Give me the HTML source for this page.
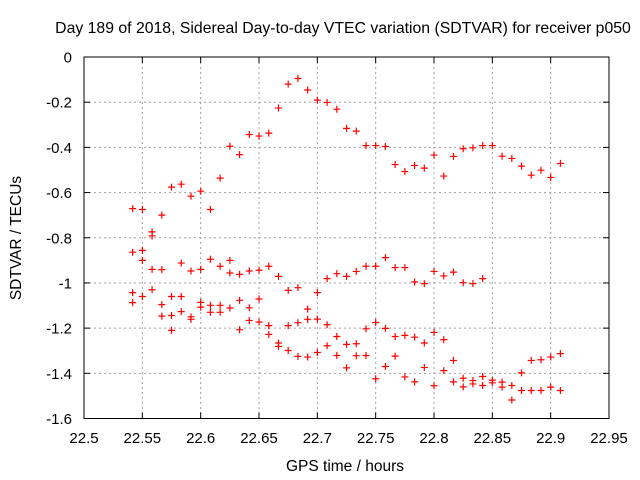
<!DOCTYPE html>
<html><head><meta charset="utf-8"><style>
html,body{margin:0;padding:0;background:#fff;}
svg{display:block;font-family:"Liberation Sans",Arial,sans-serif;}
</style></head><body>
<svg id="chart" width="640" height="480" viewBox="0 0 640 480" xmlns="http://www.w3.org/2000/svg">
<rect x="0" y="0" width="640" height="480" fill="#fff"/>
<text x="343" y="33" font-size="15.8" text-anchor="middle" fill="#000">Day 189 of 2018, Sidereal Day-to-day VTEC variation (SDTVAR) for receiver p050</text>
<text x="345" y="471" font-size="15.5" text-anchor="middle" fill="#000">GPS time / hours</text>
<text x="0" y="0" font-size="15.5" text-anchor="middle" fill="#000" transform="translate(21,238) rotate(-90)">SDTVAR / TECUs</text>
<g id="grid"></g>
<g id="ticks"></g>
<g id="pts"></g>
<rect x="84" y="57" width="525" height="361.5" fill="none" stroke="#000" stroke-width="1"/>
</svg>
<script>
const xTicks = [22.5,22.55,22.6,22.65,22.7,22.75,22.8,22.85,22.9,22.95];
const xTickLabels = ["22.5","22.55","22.6","22.65","22.7","22.75","22.8","22.85","22.9","22.95"];
const yTicks = [0,-0.2,-0.4,-0.6,-0.8,-1,-1.2,-1.4,-1.6];
const yTickLabels = ["0","-0.2","-0.4","-0.6","-0.8","-1","-1.2","-1.4","-1.6"];
const tStart = 22.5417;
const tStep = 1/120;
const bandTop = [-0.671,-0.675,-0.774,-0.700,-0.576,-0.563,-0.616,-0.594,-0.675,-0.536,-0.395,-0.432,-0.343,-0.350,-0.337,-0.226,-0.120,-0.095,-0.146,-0.191,-0.201,-0.231,-0.316,-0.328,-0.392,-0.392,-0.396,-0.476,-0.507,-0.480,-0.492,-0.434,-0.527,-0.440,-0.406,-0.402,-0.392,-0.392,-0.439,-0.449,-0.483,-0.523,-0.501,-0.533,-0.471];
const bandMid = [-0.864,-0.856,-0.792,-0.941,-1.060,-0.912,-0.947,-0.940,-0.895,-0.926,-0.900,-0.962,-0.947,-0.944,-0.926,-0.971,-1.033,-1.021,-1.116,-1.043,-0.981,-0.959,-0.971,-0.949,-0.926,-0.926,-0.888,-0.932,-0.932,-0.996,-1.003,-0.949,-0.969,-0.952,-0.999,-1.003,-0.981,null,null,null,null,null,null,null,null];
const bandLow1 = [-1.043,-0.900,-0.940,-1.096,-1.144,-1.060,-1.150,-1.086,-1.099,-1.099,-0.956,-1.077,-1.110,-1.071,-1.189,-1.266,-1.189,-1.176,-1.161,-1.160,-1.185,-1.237,-1.272,-1.269,-1.203,-1.175,-1.201,-1.237,-1.232,-1.240,-1.266,-1.219,-1.251,-1.343,-1.422,-1.432,-1.414,-1.430,-1.439,-1.454,-1.398,-1.343,-1.340,-1.328,-1.313];
const bandLow2 = [-1.087,-1.060,-1.030,-1.147,-1.210,-1.127,-1.161,-1.107,-1.130,-1.130,-1.111,-1.207,-1.166,-1.173,-1.228,-1.281,-1.299,-1.325,-1.328,-1.308,-1.278,-1.321,-1.376,-1.322,-1.321,-1.424,-1.370,-1.324,-1.416,-1.438,-1.374,-1.455,-1.388,-1.438,-1.460,-1.447,-1.454,-1.442,-1.461,-1.518,-1.476,-1.476,-1.476,-1.461,-1.476];

const L=84,R=609,T=57,B=418.5;
const xs = v => L + (v-22.5)/0.45*(R-L);
const ys = v => T + (-v)/1.6*(B-T);
const NS="http://www.w3.org/2000/svg";
function mk(tag,attrs,parent){const e=document.createElementNS(NS,tag);for(const k in attrs)e.setAttribute(k,attrs[k]);parent.appendChild(e);return e;}
const grid=document.getElementById('grid'),ticks=document.getElementById('ticks'),pts=document.getElementById('pts');
xTicks.forEach((v,i)=>{
  const x=xs(v);
  if(i>0&&i<xTicks.length-1){const g=mk('line',{x1:x,y1:T,x2:x,y2:B,stroke:'#a0a0a0','stroke-dasharray':'2,3'},grid);
  
  }
  mk('line',{x1:x,y1:B,x2:x,y2:B-6,stroke:'#000'},ticks);
  mk('line',{x1:x,y1:T,x2:x,y2:T+6,stroke:'#000'},ticks);
  const t=mk('text',{x:x,y:443,'font-size':15,'text-anchor':'middle',fill:'#000'},ticks);
  t.textContent=xTickLabels[i];
  
  
});
yTicks.forEach((v,i)=>{
  const y=ys(v);
  if(i>0&&i<yTicks.length-1){const g=mk('line',{x1:L,y1:y,x2:R,y2:y,stroke:'#a0a0a0','stroke-dasharray':'2,3'},grid);
  
  }
  mk('line',{x1:L,y1:y,x2:L+6,y2:y,stroke:'#000'},ticks);
  mk('line',{x1:R,y1:y,x2:R-6,y2:y,stroke:'#000'},ticks);
  const t=mk('text',{x:72,y:y+5.5,'font-size':15,'text-anchor':'end',fill:'#000'},ticks);
  t.textContent=yTickLabels[i];
  
  
});
[bandTop,bandMid,bandLow1,bandLow2].forEach(arr=>{
  arr.forEach((v,i)=>{
    if(v===null)return;
    const x=xs(tStart+i*tStep),y=ys(v);
    const p=mk('path',{d:`M${x-3.5},${y}H${x+3.5}M${x},${y-3.5}V${y+3.5}`,stroke:'#ff0000','stroke-width':1.2,fill:'none'},pts);
    
    
  });
});
</script>
</body></html>
